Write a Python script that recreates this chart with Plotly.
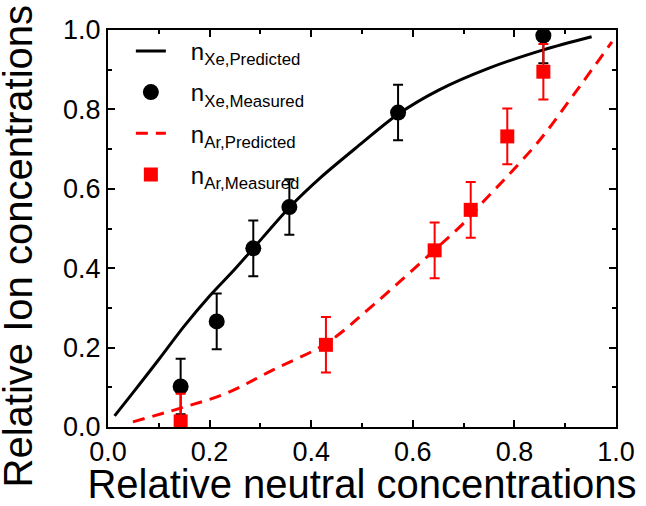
import plotly.graph_objects as go

# Predicted curves
xe_pred_x = [0.013, 0.05, 0.10, 0.15, 0.20, 0.25, 0.286, 0.357, 0.42, 0.49, 0.57, 0.65, 0.75, 0.857, 0.952]
xe_pred_y = [0.028, 0.088, 0.170, 0.254, 0.330, 0.398, 0.450, 0.553, 0.630, 0.705, 0.787, 0.848, 0.904, 0.950, 0.983]
ar_pred_x = [0.049, 0.141, 0.233, 0.325, 0.430, 0.522, 0.643, 0.706, 0.739, 0.785, 0.850, 0.916, 0.992]
ar_pred_y = [0.013, 0.047, 0.085, 0.144, 0.211, 0.307, 0.446, 0.521, 0.568, 0.630, 0.723, 0.836, 0.970]

# Measured points
xe_meas_x = [0.143, 0.214, 0.286, 0.357, 0.571, 0.857]
xe_meas_y = [0.102, 0.266, 0.450, 0.554, 0.792, 0.986]
xe_meas_err = [0.07, 0.07, 0.07, 0.07, 0.07, 0.07]
ar_meas_x = [0.143, 0.429, 0.643, 0.714, 0.786, 0.857]
ar_meas_y = [0.014, 0.207, 0.445, 0.547, 0.732, 0.895]
ar_meas_err = [0.07, 0.07, 0.07, 0.07, 0.07, 0.07]

legend_names = ["n<sub>Xe,Predicted</sub>", "n<sub>Xe,Measured</sub>",
                "n<sub>Ar,Predicted</sub>", "n<sub>Ar,Measured</sub>"]
x_title = "Relative neutral concentrations"
y_title = "Relative Ion concentrations"

FONT = "Liberation Sans, Arial, sans-serif"
PAD = "\u00a0\u00a0\u00a0"

fig = go.Figure()
fig.add_trace(go.Scatter(
    x=xe_pred_x, y=xe_pred_y, mode="lines", line=dict(color="black", width=3),
    line_shape="spline", line_smoothing=0.8,
    name=PAD + legend_names[0], legendgroup="a"))
fig.add_trace(go.Scatter(
    x=xe_meas_x, y=xe_meas_y, mode="markers",
    marker=dict(color="black", size=16, symbol="circle"),
    error_y=dict(type="data", array=xe_meas_err, color="black", thickness=2, width=5),
    name=PAD + legend_names[1], legendgroup="b"))
fig.add_trace(go.Scatter(
    x=ar_pred_x, y=ar_pred_y, mode="lines", line=dict(color="#ff0000", width=3, dash="12px,8px"),
    line_shape="spline", name=PAD + legend_names[2], legendgroup="c"))
fig.add_trace(go.Scatter(
    x=ar_meas_x, y=ar_meas_y, mode="markers",
    marker=dict(color="#ff0000", size=14, symbol="square"),
    error_y=dict(type="data", array=ar_meas_err, color="#ff0000", thickness=2, width=5),
    name=PAD + legend_names[3], legendgroup="d"))

axis_common = dict(
    range=[0, 1.0], dtick=0.2, tick0=0, tickformat=".1f",
    ticks="inside", ticklen=7, tickwidth=1.5, tickcolor="black",
    minor=dict(ticks="inside", ticklen=4, dtick=0.1, tickwidth=1.5, tickcolor="black"),
    showline=True, linewidth=2, linecolor="black", mirror="allticks",
    showgrid=False, zeroline=False, automargin=False,
    tickfont=dict(family=FONT, size=27, color="black"),
)

fig.update_xaxes(**axis_common,
                 title=dict(text=x_title,
                            font=dict(family=FONT, size=40, color="black"), standoff=4))
fig.update_yaxes(**axis_common)

fig.add_annotation(
    text=y_title, textangle=-90, xref="paper", yref="paper",
    x=-0.177, y=0.455, xanchor="center", yanchor="middle", showarrow=False,
    font=dict(family=FONT, size=40, color="black"))

fig.update_layout(
    width=646, height=506,
    margin=dict(l=108, r=30, t=30, b=79),
    paper_bgcolor="white", plot_bgcolor="white",
    showlegend=True,
    legend=dict(x=0.045, y=1.003, xanchor="left", yanchor="top",
                bgcolor="rgba(0,0,0,0)", font=dict(family=FONT, size=24, color="black"),
                tracegroupgap=7, traceorder="grouped"),
)

fig.write_html("out.html", config={"displayModeBar": False},
               post_script="document.body.style.margin='0';")
